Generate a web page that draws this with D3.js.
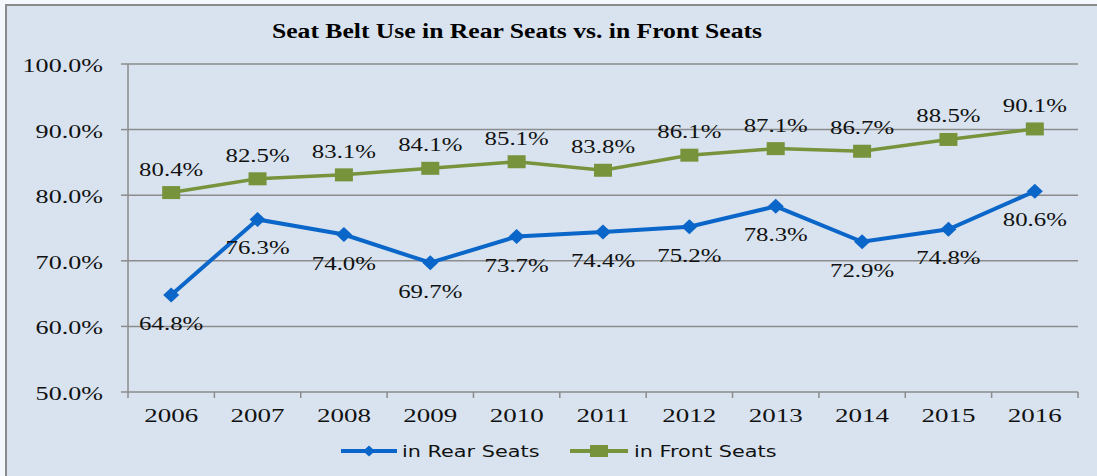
<!DOCTYPE html>
<html>
<head>
<meta charset="utf-8">
<script src="https://cdn.jsdelivr.net/npm/d3@7"></script>
<style>
  html, body { margin: 0; padding: 0; background: #f4f8fc; }
  svg { display: block; }
</style>
</head>
<body>
<div id="chart"></div>
<script>
// Data
const years = ["2006", "2007", "2008", "2009", "2010", "2011", "2012", "2013", "2014", "2015", "2016"];
const rearSeats = [64.8, 76.3, 74.0, 69.7, 73.7, 74.4, 75.2, 78.3, 72.9, 74.8, 80.6];
const frontSeats = [80.4, 82.5, 83.1, 84.1, 85.1, 83.8, 86.1, 87.1, 86.7, 88.5, 90.1];
const yTicks = [50, 60, 70, 80, 90, 100];
const seriesNames = ["in Rear Seats", "in Front Seats"];

const W = 1097, H = 476;
const margin = { top: 64, right: 19, bottom: 84, left: 128 },
      width = W - margin.left - margin.right,
      height = H - margin.top - margin.bottom;

const blue = "#0a66c8", green = "#77933c";
const serif = "'Liberation Serif', 'Times New Roman', serif";

const root = d3.select("#chart")
    .append("svg")
    .attr("width", W)
    .attr("height", H);

// Chart background and border
root.append("rect")
    .attr("x", 6).attr("y", 5)
    .attr("width", W).attr("height", H)
    .attr("fill", "#d8e3ef")
    .attr("stroke", "#8a8a8a")
    .attr("stroke-width", 2);

// Title
root.append("text")
    .attr("x", 272).attr("y", 38)
    .attr("textLength", 490)
    .attr("lengthAdjust", "spacingAndGlyphs")
    .style("font-family", serif)
    .style("font-weight", "bold")
    .style("font-size", "20px")
    .text("Seat Belt Use in Rear Seats vs. in Front Seats");

const svg = root.append("g")
    .attr("transform", `translate(${margin.left},${margin.top})`);

// Scales
const x = d3.scaleBand().domain(years).range([0, width]);
const y = d3.scaleLinear().domain([50, 100]).range([height, 0]);
const cx = d => x(d) + x.bandwidth() / 2;

// Horizontally stretched text helper
function stretched(parent, px, py, str, anchor, size, sx, family) {
    parent.append("g")
        .attr("transform", `translate(${px},${py}) scale(${sx},1)`)
        .append("text")
        .attr("text-anchor", anchor)
        .style("font-family", family || serif)
        .style("font-size", size + "px")
        .attr("fill", "#111")
        .text(str);
}

// Gridlines
svg.selectAll(".grid")
    .data(yTicks.filter(t => t > 50))
    .enter().append("line")
    .attr("x1", 0).attr("x2", width)
    .attr("y1", d => y(d)).attr("y2", d => y(d))
    .attr("stroke", "#8c8c8c")
    .attr("stroke-width", 1.5);

// Y axis
svg.append("line")
    .attr("x1", 0).attr("x2", 0)
    .attr("y1", 0).attr("y2", height)
    .attr("stroke", "#8c8c8c").attr("stroke-width", 1.5);
yTicks.forEach(t => {
    svg.append("line")
        .attr("x1", -7).attr("x2", 0)
        .attr("y1", y(t)).attr("y2", y(t))
        .attr("stroke", "#8c8c8c").attr("stroke-width", 1.5);
    stretched(svg, -25, y(t) + 8, t.toFixed(1) + "%", "end", 18, 1.45);
});

// X axis
svg.append("line")
    .attr("x1", 0).attr("x2", width)
    .attr("y1", height).attr("y2", height)
    .attr("stroke", "#8c8c8c").attr("stroke-width", 1.5);
years.forEach((yr, i) => {
    svg.append("line")
        .attr("x1", x(yr)).attr("x2", x(yr))
        .attr("y1", height).attr("y2", height + 6)
        .attr("stroke", "#8c8c8c").attr("stroke-width", 1.5);
    stretched(svg, cx(yr), height + 30, yr, "middle", 18, 1.5);
});
svg.append("line")
    .attr("x1", width).attr("x2", width)
    .attr("y1", height).attr("y2", height + 6)
    .attr("stroke", "#8c8c8c").attr("stroke-width", 1.5);

// Lines
const line = d3.line()
    .x((d, i) => cx(years[i]))
    .y(d => y(d));

svg.append("path")
    .datum(frontSeats)
    .attr("fill", "none")
    .attr("stroke", green)
    .attr("stroke-width", 3.5)
    .attr("d", line);

svg.append("path")
    .datum(rearSeats)
    .attr("fill", "none")
    .attr("stroke", blue)
    .attr("stroke-width", 4)
    .attr("d", line);

// Markers
const diamond = (px, py, w, h) => `M${px},${py - h / 2}L${px + w / 2},${py}L${px},${py + h / 2}L${px - w / 2},${py}Z`;

frontSeats.forEach((v, i) => {
    svg.append("rect")
        .attr("x", cx(years[i]) - 9).attr("y", y(v) - 6.5)
        .attr("width", 18).attr("height", 13)
        .attr("fill", green);
});
rearSeats.forEach((v, i) => {
    svg.append("path")
        .attr("d", diamond(cx(years[i]), y(v), 16, 15))
        .attr("fill", blue);
});

// Data labels
frontSeats.forEach((v, i) => {
    stretched(svg, cx(years[i]), y(v) - 17, v.toFixed(1) + "%", "middle", 18, 1.38);
});
rearSeats.forEach((v, i) => {
    stretched(svg, cx(years[i]), y(v) + 35, v.toFixed(1) + "%", "middle", 18, 1.38);
});

// Legend
const legendY = 451;
const legendItems = [
    { name: seriesNames[0], color: blue, x1: 341, x2: 397, tx: 402, shape: "diamond" },
    { name: seriesNames[1], color: green, x1: 570, x2: 628, tx: 634, shape: "square" }
];
legendItems.forEach(item => {
    root.append("line")
        .attr("x1", item.x1).attr("x2", item.x2)
        .attr("y1", legendY).attr("y2", legendY)
        .attr("stroke", item.color)
        .attr("stroke-width", 4);
    const mx = (item.x1 + item.x2) / 2;
    if (item.shape === "diamond") {
        root.append("path")
            .attr("d", diamond(mx, legendY, 12, 11))
            .attr("fill", item.color);
    } else {
        root.append("rect")
            .attr("x", mx - 9).attr("y", legendY - 6)
            .attr("width", 18).attr("height", 12)
            .attr("fill", item.color);
    }
    stretched(root, item.tx, legendY + 6, item.name, "start", 16, 1.3, "'DejaVu Sans', Verdana, sans-serif");
});
</script>
</body>
</html>
